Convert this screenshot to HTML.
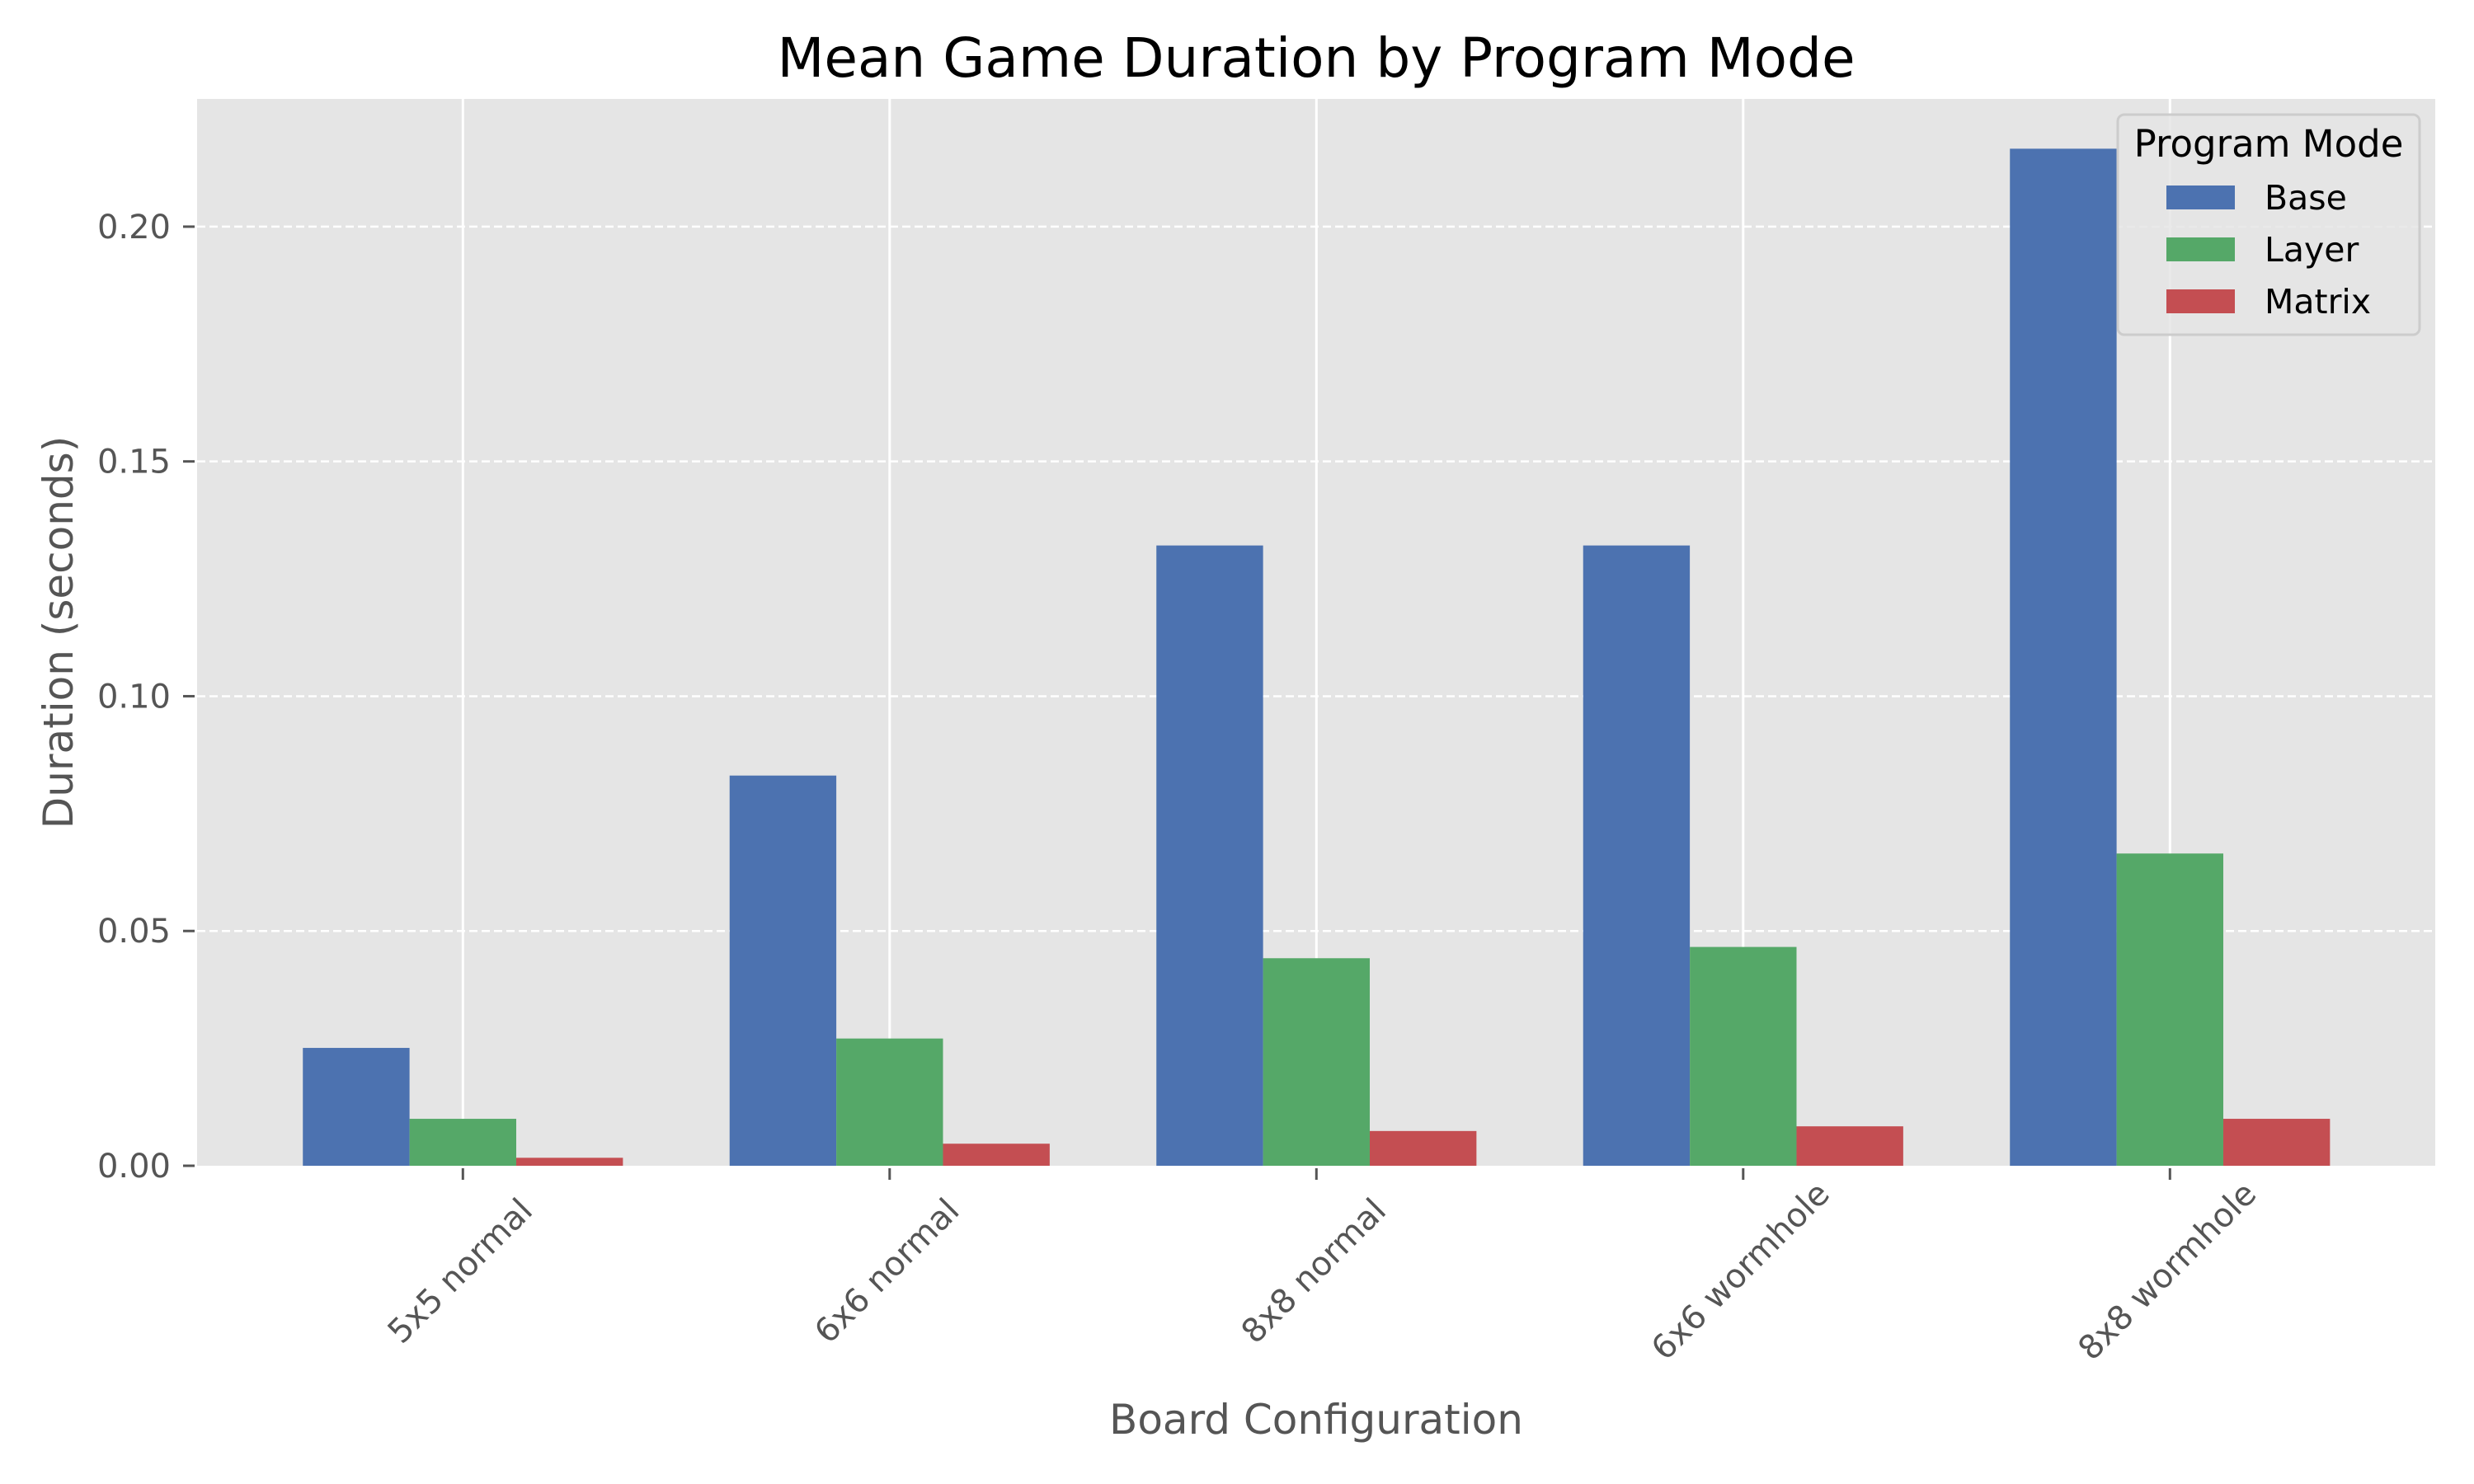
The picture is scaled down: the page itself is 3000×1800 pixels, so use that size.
<!DOCTYPE html>
<html><head><meta charset="utf-8"><style>
html,body{margin:0;padding:0;background:#fff;}
svg{display:block;font-family:"DejaVu Sans","Liberation Sans",sans-serif;}
</style></head><body>
<svg id="chart" width="3000" height="1800" viewBox="0 0 3000 1800" xmlns="http://www.w3.org/2000/svg">
<rect x="239" y="120" width="2714" height="1294" fill="#e5e5e5"/>
<g id="grid"></g><g id="bars"></g><g id="axes"></g>
<text x="1596" y="93" text-anchor="middle" font-size="66" fill="#000">Mean Game Duration by Program Mode</text>
<text x="1596" y="1739" text-anchor="middle" font-size="50" fill="#555">Board Configuration</text>
<text transform="translate(88,767) rotate(-90)" text-anchor="middle" font-size="50" fill="#555">Duration (seconds)</text>
<g>
<rect x="2568" y="139" width="366" height="267" rx="8" fill="#e5e5e5" fill-opacity="0.85" stroke="#cccccc" stroke-width="3"/>
<text x="2751" y="190" text-anchor="middle" font-size="45" fill="#000">Program Mode</text>
<g id="legend-entries"></g>
</g>
</svg>
<script>
const categories = ["5x5 normal","6x6 normal","8x8 normal","6x6 wormhole","8x8 wormhole"];
const seriesNames = ["Base","Layer","Matrix"];
const baseValues = [0.0251,0.0831,0.1321,0.1321,0.2166];
const layerValues = [0.0100,0.0271,0.0442,0.0466,0.0665];
const matrixValues = [0.0017,0.0047,0.0074,0.0084,0.0100];
const yTicks = [0,0.05,0.10,0.15,0.20];
const yTickLabels = ["0.00","0.05","0.10","0.15","0.20"];

const NS="http://www.w3.org/2000/svg";
const colors=["#4c72b0","#55a868","#c44e52"];
const L=239,R=2953,T=120,B=1414;
const ymax=0.2272;
const xs=v=>561.3+v*517.5;
const ys=v=>B-v/ymax*(B-T);
function mk(tag,attrs,parent){const e=document.createElementNS(NS,tag);for(const k in attrs)e.setAttribute(k,attrs[k]);parent.appendChild(e);return e;}
const grid=document.getElementById('grid'),bars=document.getElementById('bars'),axes=document.getElementById('axes');
yTicks.forEach((t,i)=>{
  const y=ys(t);
  if(t>0){const g=mk('line',{x1:L,x2:R,y1:y,y2:y,stroke:'#fff','stroke-width':2.5,'stroke-dasharray':'10,5'},grid);
  
  }
  const tk=mk('line',{x1:L-17,x2:L-3,y1:y,y2:y,stroke:'#555','stroke-width':3},axes);
  
  
  const lb=mk('text',{x:207,y:y+14,'text-anchor':'end','font-size':40,fill:'#555'},axes);
  lb.textContent=yTickLabels[i];
  
  
});
const series=[baseValues,layerValues,matrixValues];
const bw=0.25;
categories.forEach((c,i)=>{
  const x=xs(i);
  const g=mk('line',{x1:x,x2:x,y1:T,y2:B,stroke:'#fff','stroke-width':3},grid);
  
  
  series.forEach((vals,s)=>{
    const c0=i+(s-1)*bw;
    const x0=xs(c0-bw/2),x1=xs(c0+bw/2),y=ys(vals[i]);
    const r=mk('rect',{x:x0,y:y,width:x1-x0,height:B-y,fill:colors[s]},bars);
    
    
  });
  const tk=mk('line',{x1:x,x2:x,y1:B+3,y2:B+17,stroke:'#555','stroke-width':3},axes);
  
  
  const lb=mk('text',{transform:`translate(${x-3},1542) rotate(-45)`,'text-anchor':'middle','dominant-baseline':'central','font-size':40,fill:'#555'},axes);
  lb.textContent=c;
  
  
});
const le=document.getElementById('legend-entries');
seriesNames.forEach((n,s)=>{
  const y=225+s*63;
  const p=mk('rect',{x:2627,y:y,width:83,height:29,fill:colors[s]},le);
  
  
  const t=mk('text',{x:2746,y:y+29,'font-size':41,fill:'#000'},le);
  t.textContent=n;
  
  
});
</script>
</body></html>
